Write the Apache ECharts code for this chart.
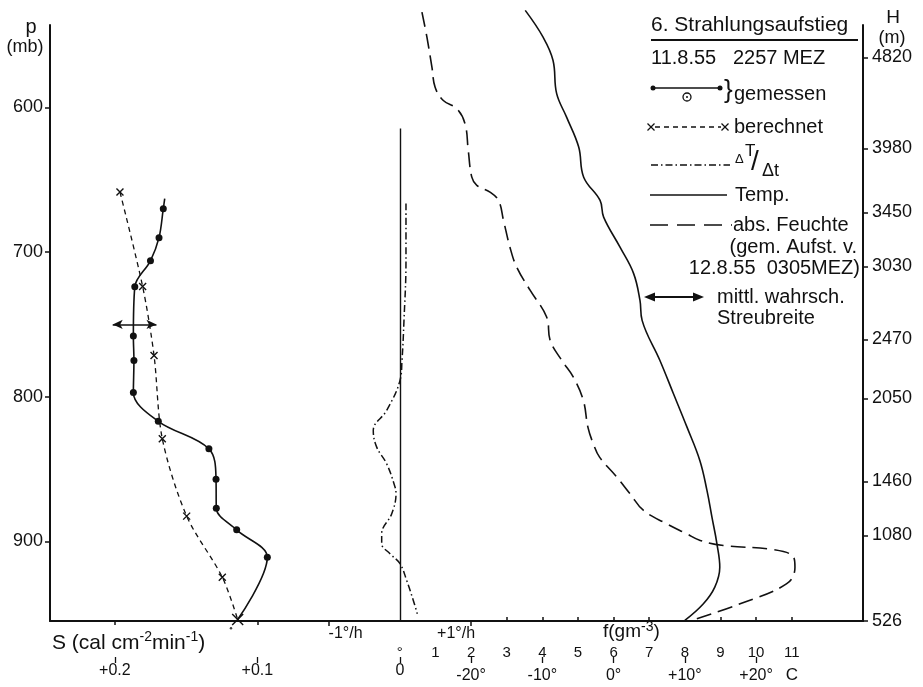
<!DOCTYPE html>
<html>
<head>
<meta charset="utf-8">
<script src="https://cdn.jsdelivr.net/npm/echarts@6/dist/echarts.min.js"></script>
<style>
html, body { margin: 0; padding: 0; background: #fff; }
#chart { width: 923px; height: 687px; }
</style>
</head>
<body>
<div id="chart"></div>
<script>
// --- values (pressure in mb) ---
// S gemessen (cal cm-2 min-1, plotted as positive, axis grows to the left)
var sMeasP = [663, 670, 690, 706, 724, 758, 775, 797, 817, 836, 857, 877, 892, 911, 954];
var sMeasV = [0.165, 0.166, 0.169, 0.175, 0.186, 0.187, 0.1866, 0.187, 0.1695, 0.134, 0.129, 0.1288, 0.1145, 0.093, 0.1138];
// S berechnet
var sCalcP = [658.5, 723.7, 771.4, 829.0, 882.5, 924.7, 953.9];
var sCalcV = [0.1964, 0.1805, 0.1725, 0.1667, 0.1496, 0.1246, 0.1138];
// surface value (circle below the axis)
var sSurfP = [960];
var sSurfV = [0.1185];
// mittl. wahrsch. Streubreite
var streuP = 750;
var streuV = [0.2015, 0.1708];
// dT/dt (deg/h)
var dtP = [666.4, 705.8, 747.2, 774.9, 788.7, 809.4, 823.3, 834.8, 846.3, 862.4, 867.0, 880.8, 894.7, 901.6, 908.5, 915.4, 927.0, 940.8, 950.0];
var dtV = [0.086, 0.086, 0.058, 0.03, 0.002, -0.185, -0.373, -0.325, -0.185, -0.068, -0.054, -0.114, -0.255, -0.255, -0.138, 0.002, 0.096, 0.189, 0.245];
var dtZeroTop = 614.5;
// Temp (deg C)
var tempP = [532.9, 551.4, 567.5, 590.3, 606.7, 627.4, 648.2, 664.3, 675.8, 696.6, 714.7, 733.4, 747.2, 774.9, 797.9, 821.0, 844.0, 864.7, 883.2, 901.6, 917.8, 931.6, 943.1, 954.6];
var tempV = [-12.4, -9.9, -8.5, -8.0, -6.6, -4.9, -4.2, -1.9, -1.4, 0.9, 2.8, 3.7, 4.0, 6.5, 8.4, 10.3, 12.1, 13.1, 13.8, 14.5, 14.9, 14.2, 12.6, 10.0];
// abs. Feuchte f (g m-3)
var humP = [534.1, 551.4, 572.1, 586.0, 595.2, 600.9, 611.3, 629.7, 648.2, 653.9, 658.5, 664.3, 678.1, 696.6, 710.4, 726.5, 744.9, 761.1, 775.0, 786.4, 802.5, 821.2, 832.5, 841.9, 855.5, 867.0, 878.6, 887.8, 894.7, 899.3, 902.8, 905.7, 910.8, 917.8, 929.2, 943.1, 954.2];
var humV = [0.62, 0.76, 0.90, 0.99, 1.22, 1.60, 1.83, 1.92, 2.02, 2.16, 2.53, 2.77, 2.91, 3.09, 3.28, 3.66, 4.12, 4.22, 4.55, 4.87, 5.15, 5.28, 5.43, 5.61, 6.09, 6.46, 6.84, 7.49, 8.05, 8.43, 9.08, 10.49, 11.05, 11.09, 10.86, 9.55, 8.24];

// tick labels
var pTicks = [600, 700, 800, 900];
var hLabels = ['4820', '3980', '3450', '3030', '2470', '2050', '1460', '1080', '526'];
var hTickP = [565.4, 628.3, 672.6, 709.9, 760.4, 801.1, 858.5, 895.8, 955];
var dtTicks = [-1, 1];
var fLabelTicks = [0, 1, 2, 3, 4, 5, 6, 7, 8, 9, 10, 11];
var fAxisTicks = [3, 4, 5, 6, 7, 9, 10, 11];
var sTicks = [0.2, 0.1, 0];
var tTicks = [-20, -10, 0, 10, 20];

// axis ranges (f scale spans the plot width, others derived from it)
var F_MIN = -9.82, F_MAX = 13.0;
var P_MIN = 543, P_MAX = 955;

var INK = '#111';
var FONT = 'Liberation Sans';

function pairs(xs, ys) {
  return xs.map(function (x, i) { return [x, ys[i]]; });
}

// kleine Hilfen fuer die Legende
function txt(x, y, s, size, align, extra) {
  return { type: 'text', x: x, y: y, silent: true,
    style: Object.assign({ text: s, fontSize: size || 20, fontFamily: FONT, fill: INK,
      align: align || 'left', verticalAlign: 'middle' }, extra || {}) };
}
function seg(x1, y1, x2, y2, dash, w) {
  var st = { stroke: INK, lineWidth: w || 1.6 };
  if (dash) st.lineDash = dash;
  return { type: 'line', silent: true, shape: { x1: x1, y1: y1, x2: x2, y2: y2 }, style: st };
}
function cross(x, y, r) {
  return [seg(x - r, y - r, x + r, y + r, null, 1.3), seg(x - r, y + r, x + r, y - r, null, 1.3)];
}

var crossPath = 'path://M0,0L10,10M10,0L0,10';
var supRich = { sup: { fontSize: 14, lineHeight: 13, verticalAlign: 'top', fontFamily: FONT, fill: INK } };

var legend = [
  txt(651, 25, '6. Strahlungsaufstieg', 21),
  seg(651, 40, 858, 40, null, 2),
  txt(651, 58, '11.8.55   2257 MEZ', 20),
  seg(653, 88, 720, 88, null, 1.6),
  { type: 'circle', silent: true, shape: { cx: 653, cy: 88, r: 2.5 }, style: { fill: INK } },
  { type: 'circle', silent: true, shape: { cx: 720, cy: 88, r: 2.5 }, style: { fill: INK } },
  { type: 'circle', silent: true, shape: { cx: 687, cy: 97, r: 4 }, style: { fill: 'none', stroke: INK, lineWidth: 1.3 } },
  { type: 'circle', silent: true, shape: { cx: 687, cy: 97, r: 1 }, style: { fill: INK } },
  txt(724, 91, '}', 26),
  txt(734, 94, 'gemessen', 20),
  seg(655, 127, 721, 127, [5, 4], 1.3),
  txt(734, 127, 'berechnet', 20),
  seg(651, 165, 730, 165, [7, 3, 1.5, 3], 1.6),
  txt(735, 159, 'Δ', 13),
  txt(745, 151, 'T', 17),
  txt(751, 162, '/', 28),
  txt(762, 171, 'Δt', 18),
  seg(650, 195, 727, 195, null, 1.6),
  txt(735, 195, 'Temp.', 20),
  seg(650, 225, 732, 225, [18, 9], 1.6),
  txt(733, 225, 'abs. Feuchte', 20),
  txt(857, 247, '(gem. Aufst. v.', 20, 'right'),
  txt(860, 268, '12.8.55  0305MEZ)', 20, 'right'),
  seg(648, 297, 700, 297, null, 1.8),
  { type: 'polygon', silent: true, shape: { points: [[644, 297], [655, 292.5], [655, 301.5]] }, style: { fill: INK } },
  { type: 'polygon', silent: true, shape: { points: [[704, 297], [693, 292.5], [693, 301.5]] }, style: { fill: INK } },
  txt(717, 297, 'mittl. wahrsch.', 20),
  txt(717, 318, 'Streubreite', 20)
].concat(cross(651, 127, 3.5), cross(725, 127, 3.5));

var axisText = [
  txt(31, 27, 'p', 20, 'center'),
  txt(25, 47, '(mb)', 18, 'center'),
  txt(893, 18, 'H', 19, 'center'),
  txt(892, 38, '(m)', 18, 'center'),
  txt(52, 643, 'S (cal cm{sup|-2}min{sup|-1})', 21, 'left', { rich: supRich, lineHeight: 26 }),
  txt(603, 632, 'f(gm{sup|-3})', 19, 'left', { rich: supRich, lineHeight: 24 }),
  txt(792, 675, 'C', 17, 'center')
];

var chart = echarts.init(document.getElementById('chart'));
chart.setOption({
  animation: false,
  backgroundColor: '#fff',
  textStyle: { fontFamily: FONT, color: INK },
  grid: { left: 50, right: 60, top: 25, bottom: 66, containLabel: false },
  xAxis: [
    { // 0: dT/dt, carries the main bottom line
      type: 'value', position: 'bottom', min: F_MIN / 2, max: F_MAX / 2,
      axisLine: { show: true, onZero: false, lineStyle: { color: INK, width: 2 } },
      axisTick: { show: true, customValues: dtTicks, length: 5, lineStyle: { color: INK, width: 1.5 } },
      axisLabel: { show: true, customValues: dtTicks, fontSize: 16, color: INK, margin: 5,
        formatter: function (v) { return v > 0 ? '{r|+1°/h}' : '{l|-1°/h}'; },
        rich: { l: { fontSize: 16, padding: [0, 0, 0, 34] }, r: { fontSize: 16, padding: [0, 30, 0, 0] } } },
      splitLine: { show: false }
    },
    { // 1: f (g m-3)
      type: 'value', position: 'bottom', min: F_MIN, max: F_MAX,
      axisLine: { show: false, onZero: false },
      axisTick: { show: true, inside: true, customValues: fAxisTicks, length: 4, lineStyle: { color: INK, width: 1.5 } },
      axisLabel: { show: true, customValues: fLabelTicks, fontSize: 15, color: INK, margin: 24,
        formatter: function (v) { return v === 0 ? '°' : String(v); } },
      splitLine: { show: false }
    },
    { // 2: S, ticks on the main line
      type: 'value', position: 'bottom', inverse: true, min: -F_MAX / 40, max: -F_MIN / 40,
      axisLine: { show: false, onZero: false },
      axisTick: { show: true, customValues: [0.2, 0.1], length: 4, lineStyle: { color: INK, width: 1.5 } },
      axisLabel: { show: false },
      splitLine: { show: false }
    },
    { // 3: S labels, lower row
      type: 'value', position: 'bottom', offset: 36, inverse: true, min: -F_MAX / 40, max: -F_MIN / 40,
      axisLine: { show: false, onZero: false },
      axisTick: { show: true, customValues: sTicks, length: 6, lineStyle: { color: INK, width: 1.3 } },
      axisLabel: { show: true, customValues: sTicks, fontSize: 16, color: INK, margin: 6,
        formatter: function (v) { return v === 0 ? '0' : '+' + v.toFixed(1); } },
      splitLine: { show: false }
    },
    { // 4: temperature labels, lower row
      type: 'value', position: 'bottom', offset: 36, min: 5 * F_MIN - 30, max: 5 * F_MAX - 30,
      axisLine: { show: false, onZero: false },
      axisTick: { show: true, customValues: tTicks, length: 6, lineStyle: { color: INK, width: 1.3 } },
      axisLabel: { show: true, customValues: tTicks, fontSize: 16, color: INK, margin: 11,
        formatter: function (v) { return (v > 0 ? '+' : '') + v + '°'; } },
      splitLine: { show: false }
    }
  ],
  yAxis: [
    {
      type: 'value', position: 'left', inverse: true, min: P_MIN, max: P_MAX,
      axisLine: { show: true, onZero: false, lineStyle: { color: INK, width: 2 } },
      axisTick: { show: true, customValues: pTicks, length: 5, lineStyle: { color: INK, width: 1.5 } },
      axisLabel: { show: true, customValues: pTicks, fontSize: 18, color: INK, margin: 7 },
      splitLine: { show: false }
    },
    {
      type: 'value', position: 'right', inverse: true, min: P_MIN, max: P_MAX,
      axisLine: { show: true, onZero: false, lineStyle: { color: INK, width: 2 } },
      axisTick: { show: true, customValues: hTickP, length: 5, lineStyle: { color: INK, width: 1.5 } },
      axisLabel: { show: true, customValues: hTickP, fontSize: 18, color: INK, margin: 9,
        formatter: function (v) {
          var best = 0;
          hTickP.forEach(function (p, i) { if (Math.abs(p - v) < Math.abs(hTickP[best] - v)) best = i; });
          return hLabels[best];
        } },
      splitLine: { show: false }
    }
  ],
  series: [
    {
      name: 'gemessen', type: 'line', xAxisIndex: 2, yAxisIndex: 0, clip: false,
      data: pairs(sMeasV, sMeasP), smooth: 0.35,
      symbol: function (v, params) {
        return (params.dataIndex === 0 || params.dataIndex === sMeasP.length - 1) ? 'none' : 'circle';
      },
      symbolSize: 7, itemStyle: { color: INK }, lineStyle: { color: INK, width: 1.6 },
      markLine: {
        silent: true, symbol: ['arrow', 'arrow'], symbolSize: [7, 10], label: { show: false },
        lineStyle: { color: INK, width: 1.6, type: 'solid' },
        data: [[{ coord: [streuV[0], streuP] }, { coord: [streuV[1], streuP] }]]
      }
    },
    {
      name: 'berechnet', type: 'line', xAxisIndex: 2, yAxisIndex: 0, clip: false,
      data: pairs(sCalcV, sCalcP), smooth: 0.3,
      symbol: crossPath,
      symbolSize: function (v, params) { return params.dataIndex === sCalcP.length - 1 ? 11 : 7; },
      itemStyle: { color: 'none', borderColor: INK, borderWidth: 1.4 },
      lineStyle: { color: INK, width: 1.3, type: [5, 4] }
    },
    {
      name: 'gemessen Boden', type: 'scatter', xAxisIndex: 2, yAxisIndex: 0, clip: false,
      data: pairs(sSurfV, sSurfP), symbol: 'emptyCircle', symbolSize: 8,
      itemStyle: { color: '#fff', borderColor: INK, borderWidth: 1.3 }
    },
    {
      name: 'gemessen Boden Punkt', type: 'scatter', xAxisIndex: 2, yAxisIndex: 0, clip: false,
      data: pairs(sSurfV, sSurfP), symbol: 'circle', symbolSize: 2.5, itemStyle: { color: INK }
    },
    {
      name: 'dT/dt', type: 'line', xAxisIndex: 0, yAxisIndex: 0, clip: false,
      data: pairs(dtV, dtP), smooth: 0.4, symbol: 'none',
      lineStyle: { color: INK, width: 1.5, type: [7, 3, 1.5, 3] },
      markLine: {
        silent: true, symbol: 'none', label: { show: false },
        lineStyle: { color: INK, width: 1.4, type: 'solid' },
        data: [[{ coord: [0, dtZeroTop] }, { coord: [0, P_MAX] }]]
      }
    },
    {
      name: 'Temp.', type: 'line', xAxisIndex: 4, yAxisIndex: 0, clip: false,
      data: pairs(tempV, tempP), smooth: 0.4, symbol: 'none',
      lineStyle: { color: INK, width: 1.6 }
    },
    {
      name: 'abs. Feuchte', type: 'line', xAxisIndex: 1, yAxisIndex: 0, clip: false,
      data: pairs(humV, humP), smooth: 0.4, symbol: 'none',
      lineStyle: { color: INK, width: 1.6, type: [15, 7] }
    }
  ],
  graphic: legend.concat(axisText)
});
</script>
</body>
</html>
